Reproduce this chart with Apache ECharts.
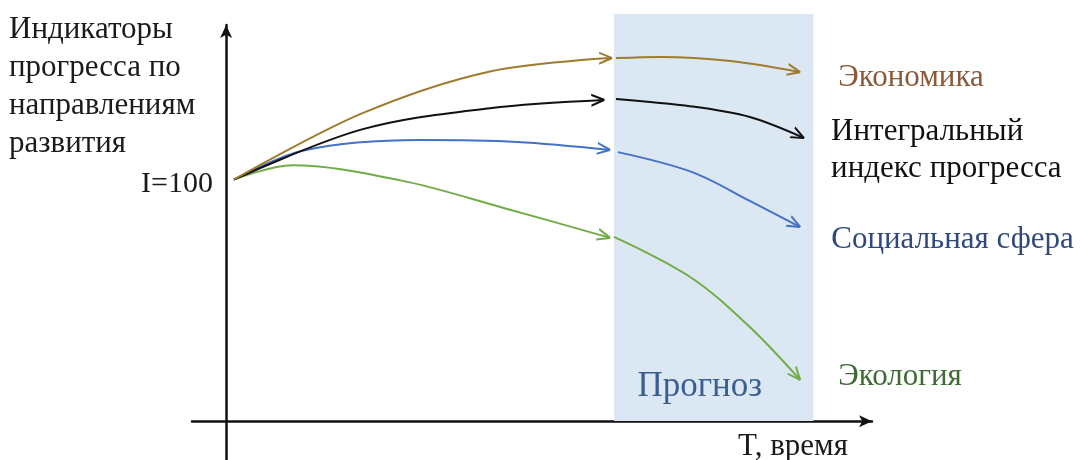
<!DOCTYPE html>
<html>
<head>
<meta charset="utf-8">
<script src="https://cdn.jsdelivr.net/npm/echarts@6/dist/echarts.min.js"></script>
<style>
  html, body { margin: 0; padding: 0; background: #fff; }
  #main { width: 1086px; height: 460px; }
</style>
</head>
<body>
<div id="main"></div>
<script>
// time t (0 = y axis, 10 = start of forecast), index I (100 = start)
var economyPast = [[0.2, 100], [3.5, 127.4], [6.8, 144.8], [9.95, 150.3]];
var economyForecast = [[10.05, 150.3], [11.2, 150.8], [13.0, 149.1], [14.8, 144.5]];
var integralPast = [[0.2, 100], [3.5, 120.8], [6.8, 129.6], [9.75, 133]];
var integralForecast = [[10.05, 133.4], [12.0, 130.3], [13.5, 125.9], [14.9, 117.2]];
var socialPast = [[0.2, 100], [2.0, 112.1], [5.0, 116.4], [7.5, 115.6], [9.9, 112.3]];
var socialForecast = [[10.1, 111.4], [12.0, 103.2], [13.5, 91.2], [14.8, 80.4]];
var ecologyPast = [[0.2, 100], [1.7, 106], [4.5, 99.7], [7.2, 88.1], [9.9, 75.9]];
var ecologyForecast = [[10.0, 76.3], [12.0, 59.3], [13.5, 39.0], [14.8, 17.1]];

var forecastRange = [10, 15.14];
var yLabels = [100];

var SERIF = "'Liberation Serif', 'DejaVu Serif', serif";
var ARROW = 'path://M24,6M0,0L12,5L12,7L0,12L0,10L9.5,6L0,2Z';

var lines = [
    {id: 'eco', name: 'Экология', color: '#70ad47', past: ecologyPast, forecast: ecologyForecast,
     label: {color: '#3f6b35', offset: [38, -3]}},
    {id: 'soc', name: 'Социальная сфера', color: '#4472c4', past: socialPast, forecast: socialForecast,
     label: {color: '#2f4a7a', offset: [31, 13]}},
    {id: 'int', name: 'Интегральный\nиндекс прогресса', color: '#111111', past: integralPast, forecast: integralForecast,
     label: {color: '#111111', offset: [27, 12]}},
    {id: 'ecn', name: 'Экономика', color: '#9e7b2f', past: economyPast, forecast: economyForecast,
     label: {color: '#8a5a3a', offset: [38, 6]}}
];

var chart = echarts.init(document.getElementById('main'));

var series = [{
    id: 'shade',
    type: 'line',
    xAxisIndex: 1,
    yAxisIndex: 1,
    data: [],
    silent: true,
    markArea: {
        silent: true,
        itemStyle: {color: '#dce7f4'},
        label: {
            show: true,
            position: 'insideBottom',
            distance: 17,
            offset: [-14, 0],
            fontFamily: SERIF,
            fontSize: 35,
            color: '#3a5f8f'
        },
        data: [[{name: 'Прогноз', xAxis: forecastRange[0]}, {xAxis: forecastRange[1]}]]
    }
}];

lines.forEach(function(l) {
    var common = {
        type: 'line',
        smooth: 0.34,
        symbol: 'none',
        showSymbol: true,
        silent: true,
        color: l.color,
        lineStyle: {color: l.color, width: 2},
        z: 3
    };
    series.push(Object.assign({id: l.id + '-past', data: l.past}, common));
    series.push(Object.assign({
        id: l.id + '-fc',
        data: l.forecast,
        endLabel: {
            show: true,
            formatter: l.name,
            distance: 0,
            offset: l.label.offset,
            color: l.label.color,
            fontFamily: SERIF,
            fontSize: 31,
            lineHeight: 37
        }
    }, common));
});

var option = {
    animation: false,
    title: {
        text: 'Индикаторы\nпрогресса по\nнаправлениям\nразвития',
        left: 9,
        top: 11,
        padding: 0,
        textStyle: {fontFamily: SERIF, fontSize: 31, fontWeight: 'normal', lineHeight: 38, color: '#1a1a1a'}
    },
    grid: [
        {left: 192, right: 214, top: 25, bottom: 0, outerBoundsMode: 'none'},
        {left: 192, right: 214, top: 14, bottom: 39, outerBoundsMode: 'none'}
    ],
    xAxis: [{
        type: 'value',
        gridIndex: 0,
        min: -0.88,
        max: 16.65,
        name: 'T, время',
        nameLocation: 'end',
        nameGap: -24,
        nameTextStyle: {fontFamily: SERIF, fontSize: 31, color: '#1a1a1a', align: 'right', verticalAlign: 'top', padding: [10, 0, 0, 0]},
        axisLine: {onZero: true, symbol: ['none', 'arrow'], symbolSize: [9, 13], lineStyle: {color: '#111', width: 2.5}},
        axisTick: {show: false},
        axisLabel: {show: false},
        splitLine: {show: false}
    }, {
        type: 'value',
        gridIndex: 1,
        min: -0.88,
        max: 16.65,
        show: false
    }],
    yAxis: [{
        type: 'value',
        gridIndex: 0,
        min: -16,
        max: 164,
        axisLine: {onZero: true, symbol: ['none', 'arrow'], symbolSize: [9, 13], lineStyle: {color: '#111', width: 2.5}},
        axisTick: {show: false},
        axisLabel: {
            show: true,
            customValues: yLabels,
            formatter: function(v) { return 'I=' + v; },
            margin: -21,
            verticalAlign: 'top',
            lineHeight: 8,
            fontFamily: SERIF,
            fontSize: 30,
            color: '#1a1a1a'
        },
        splitLine: {show: false}
    }, {
        type: 'value',
        gridIndex: 1,
        min: 0,
        max: 1,
        show: false
    }],
    series: series
};

chart.setOption(option);

// arrowheads follow the end tangent of each curve, estimated from the last two chords in pixels
function withArrow(data, color) {
    var n = data.length;
    var p0 = chart.convertToPixel({gridIndex: 0}, data[n - 3]);
    var p1 = chart.convertToPixel({gridIndex: 0}, data[n - 2]);
    var p2 = chart.convertToPixel({gridIndex: 0}, data[n - 1]);
    var last = Math.atan2(p1[1] - p2[1], p2[0] - p1[0]);
    var prev = Math.atan2(p0[1] - p1[1], p1[0] - p0[0]);
    var deg = (last + 0.5 * (last - prev)) * 180 / Math.PI;
    return data.map(function(p, i) {
        if (i < n - 1) return p;
        return {value: p, symbol: ARROW, symbolSize: [26, 13], symbolRotate: deg, itemStyle: {color: color}};
    });
}

var update = [];
lines.forEach(function(l) {
    update.push({id: l.id + '-past', data: withArrow(l.past, l.color)});
    update.push({id: l.id + '-fc', data: withArrow(l.forecast, l.color)});
});
chart.setOption({series: update});
</script>
</body>
</html>
